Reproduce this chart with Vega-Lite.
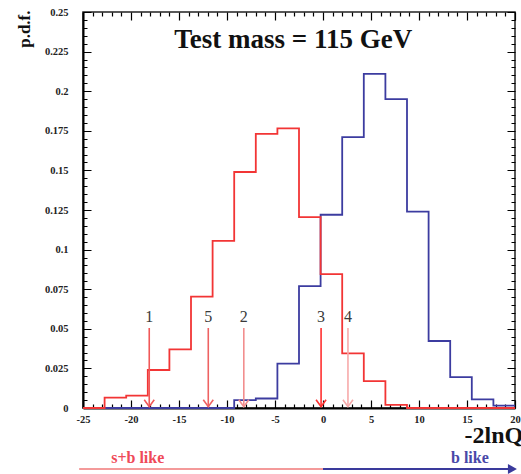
{
  "$schema": "https://vega.github.io/schema/vega-lite/v6.json",
  "width": 432,
  "height": 396,
  "autosize": {"type": "none"},
  "padding": {"left": 83, "top": 12, "right": 6, "bottom": 66},
  "background": "white",
  "config": {
    "view": {"stroke": "#222", "strokeWidth": 1.5}
  },
  "datasets": {
    "hist": [
      {"x": -25, "sb": 0, "b": 0},
      {"x": -22.75, "sb": 0.0065, "b": 0},
      {"x": -20.5, "sb": 0.0078, "b": 0},
      {"x": -18.25, "sb": 0.024, "b": 0},
      {"x": -16, "sb": 0.037, "b": 0},
      {"x": -13.75, "sb": 0.0703, "b": 0},
      {"x": -11.5, "sb": 0.1055, "b": 0},
      {"x": -9.25, "sb": 0.149, "b": 0.005},
      {"x": -7, "sb": 0.173, "b": 0.006},
      {"x": -4.75, "sb": 0.1765, "b": 0.028},
      {"x": -2.5, "sb": 0.1205, "b": 0.077},
      {"x": -0.25, "sb": 0.0845, "b": 0.122},
      {"x": 2, "sb": 0.0345, "b": 0.171},
      {"x": 4.25, "sb": 0.017, "b": 0.211},
      {"x": 6.5, "sb": 0.002, "b": 0.195},
      {"x": 8.75, "sb": 0, "b": 0.124},
      {"x": 11, "sb": 0, "b": 0.0423},
      {"x": 13.25, "sb": 0, "b": 0.0195},
      {"x": 15.5, "sb": 0, "b": 0.0055},
      {"x": 17.75, "sb": 0, "b": 0.0015},
      {"x": 20, "sb": 0, "b": 0.0015}
    ],
    "arrows": [
      {"label": "1", "x": -18.1},
      {"label": "5", "x": -11.95},
      {"label": "2", "x": -8.25},
      {"label": "3", "x": -0.2},
      {"label": "4", "x": 2.6}
    ],
    "sides": [
      {"side": "s+b like", "x1": -25.4, "x2": 0},
      {"side": "b like", "x1": 0, "x2": 19.6}
    ]
  },
  "layer": [
    {
      "data": {"name": "hist"},
      "mark": {"type": "line", "interpolate": "step-after", "color": "#3c3ca0", "strokeWidth": 1.8},
      "encoding": {
        "x": {
          "field": "x", "type": "quantitative",
          "scale": {"domain": [-25, 20], "nice": false, "zero": false},
          "axis": {
            "orient": "bottom",
            "tickCount": 45, "ticks": false,
            "grid": true, "gridColor": "#000", "gridWidth": 1.2, "gridOpacity": 1,
            "gridDash": {"condition": {"test": "datum.value % 5 === 0", "value": [8, 380, 8, 1000]}, "value": [4, 388, 4, 1000]},
            "labelExpr": "datum.value % 5 === 0 ? '' + datum.value : ''",
            "labelFont": "Liberation Serif", "labelFontWeight": "bold", "labelFontSize": 10.5,
            "labelColor": "#222", "labelPadding": 6,
            "labelOverlap": false, "labelBound": false, "labelFlush": false,
            "domainColor": "#000", "domainWidth": 2,
            "title": "-2lnQ",
            "titleFont": "Liberation Serif", "titleFontSize": 24, "titleFontWeight": "bold",
            "titleColor": "#111", "titleAlign": "left", "titleAnchor": "start",
            "titleX": 381, "titleY": 34, "titleBaseline": "alphabetic"
          }
        },
        "y": {
          "field": "b", "type": "quantitative",
          "scale": {"domain": [0, 0.25], "nice": false, "zero": false},
          "axis": {
            "orient": "left",
            "tickCount": 50, "ticks": false,
            "grid": true, "gridColor": "#000", "gridWidth": 1.2, "gridOpacity": 1,
            "gridDash": {"condition": {"test": "abs(datum.value*40 - round(datum.value*40)) < 0.01", "value": [8, 416, 8, 1000]}, "value": [4, 424, 4, 1000]},
            "labelExpr": "abs(datum.value*40 - round(datum.value*40)) < 0.01 ? '' + round(datum.value*1000)/1000 : ''",
            "labelFont": "Liberation Serif", "labelFontWeight": "bold", "labelFontSize": 10.5,
            "labelColor": "#222", "labelPadding": 15,
            "labelOverlap": false, "labelBound": false, "labelFlush": false,
            "domainColor": "#000", "domainWidth": 2,
            "title": "p.d.f.",
            "titleFont": "Liberation Serif", "titleFontSize": 17, "titleFontWeight": "bold",
            "titleColor": "#111", "titleAngle": -90, "titleAlign": "right",
            "titleBaseline": "middle", "titleX": -59, "titleY": -2
          }
        }
      }
    },
    {
      "data": {"name": "hist"},
      "mark": {"type": "line", "interpolate": "step-after", "color": "#f23535", "strokeWidth": 1.8},
      "encoding": {
        "x": {"field": "x", "type": "quantitative", "scale": {"domain": [-25, 20], "nice": false, "zero": false}, "axis": null},
        "y": {"field": "sb", "type": "quantitative", "scale": {"domain": [0, 0.25], "nice": false, "zero": false}, "axis": null}
      }
    },
    {
      "data": {"name": "arrows"},
      "mark": {"type": "rule", "strokeWidth": 1.6},
      "encoding": {
        "x": {"field": "x", "type": "quantitative", "scale": {"domain": [-25, 20], "nice": false, "zero": false}, "axis": null},
        "y": {"datum": 0.0505, "type": "quantitative", "scale": {"domain": [0, 0.25], "nice": false, "zero": false}, "axis": null},
        "y2": {"datum": 0.0008},
        "color": {
          "field": "label", "type": "nominal", "legend": null,
          "scale": {"domain": ["1", "2", "3", "4", "5"], "range": ["#f05858", "#f28e8e", "#ff3030", "#f7aaaa", "#ee6262"]}
        }
      }
    },
    {
      "data": {"name": "arrows"},
      "mark": {"type": "point", "shape": "M-1,-1.4L0,0L1,-1.4", "filled": false, "size": 100, "strokeWidth": 1.6, "opacity": 1},
      "encoding": {
        "x": {"field": "x", "type": "quantitative", "scale": {"domain": [-25, 20], "nice": false, "zero": false}, "axis": null},
        "y": {"datum": 0.0008, "type": "quantitative", "scale": {"domain": [0, 0.25], "nice": false, "zero": false}, "axis": null},
        "color": {
          "field": "label", "type": "nominal", "legend": null,
          "scale": {"domain": ["1", "2", "3", "4", "5"], "range": ["#f05858", "#f28e8e", "#ff3030", "#f7aaaa", "#ee6262"]}
        }
      }
    },
    {
      "data": {"name": "arrows"},
      "mark": {"type": "text", "font": "Liberation Serif", "fontSize": 16, "color": "#3a3a3a", "baseline": "alphabetic", "align": "center"},
      "encoding": {
        "x": {"field": "x", "type": "quantitative", "scale": {"domain": [-25, 20], "nice": false, "zero": false}, "axis": null},
        "y": {"datum": 0.0545, "type": "quantitative", "scale": {"domain": [0, 0.25], "nice": false, "zero": false}, "axis": null},
        "text": {"field": "label"}
      }
    },
    {
      "data": {"values": [{}]},
      "mark": {"type": "text", "font": "Liberation Serif", "fontSize": 27, "fontWeight": "bold", "color": "#111", "baseline": "alphabetic", "align": "center"},
      "encoding": {
        "x": {"datum": -3.1, "type": "quantitative", "scale": {"domain": [-25, 20], "nice": false, "zero": false}, "axis": null},
        "y": {"datum": 0.2275, "type": "quantitative", "scale": {"domain": [0, 0.25], "nice": false, "zero": false}, "axis": null},
        "text": {"value": "Test mass = 115 GeV"}
      }
    },
    {
      "data": {"name": "sides"},
      "mark": {"type": "rule", "strokeWidth": 2},
      "encoding": {
        "x": {"field": "x1", "type": "quantitative", "scale": {"domain": [-25, 20], "nice": false, "zero": false}, "axis": null},
        "x2": {"field": "x2"},
        "y": {"datum": -0.0385, "type": "quantitative", "scale": {"domain": [0, 0.25], "nice": false, "zero": false}, "axis": null},
        "color": {
          "field": "side", "type": "nominal", "legend": null,
          "scale": {"domain": ["s+b like", "b like"], "range": ["#f49a9a", "#3a3a9c"]}
        }
      }
    },
    {
      "data": {"values": [{}]},
      "mark": {"type": "point", "shape": "M0,0L-1.8,-1L-1.8,1Z", "filled": true, "size": 100, "color": "#3a3a9c", "opacity": 1},
      "encoding": {
        "x": {"datum": 20.2, "type": "quantitative", "scale": {"domain": [-25, 20], "nice": false, "zero": false}, "axis": null},
        "y": {"datum": -0.0385, "type": "quantitative", "scale": {"domain": [0, 0.25], "nice": false, "zero": false}, "axis": null}
      }
    },
    {
      "data": {"values": [{}]},
      "mark": {"type": "text", "font": "Liberation Serif", "fontSize": 16, "fontWeight": "bold", "color": "#ef4a58", "baseline": "alphabetic", "align": "center"},
      "encoding": {
        "x": {"datum": -19.3, "type": "quantitative", "scale": {"domain": [-25, 20], "nice": false, "zero": false}, "axis": null},
        "y": {"datum": -0.0345, "type": "quantitative", "scale": {"domain": [0, 0.25], "nice": false, "zero": false}, "axis": null},
        "text": {"value": "s+b like"}
      }
    },
    {
      "data": {"values": [{}]},
      "mark": {"type": "text", "font": "Liberation Serif", "fontSize": 16, "fontWeight": "bold", "color": "#4848a8", "baseline": "alphabetic", "align": "center"},
      "encoding": {
        "x": {"datum": 15.3, "type": "quantitative", "scale": {"domain": [-25, 20], "nice": false, "zero": false}, "axis": null},
        "y": {"datum": -0.0345, "type": "quantitative", "scale": {"domain": [0, 0.25], "nice": false, "zero": false}, "axis": null},
        "text": {"value": "b like"}
      }
    }
  ],
  "resolve": {
    "scale": {"x": "independent", "y": "independent", "color": "independent"},
    "axis": {"x": "independent", "y": "independent"}
  }
}
